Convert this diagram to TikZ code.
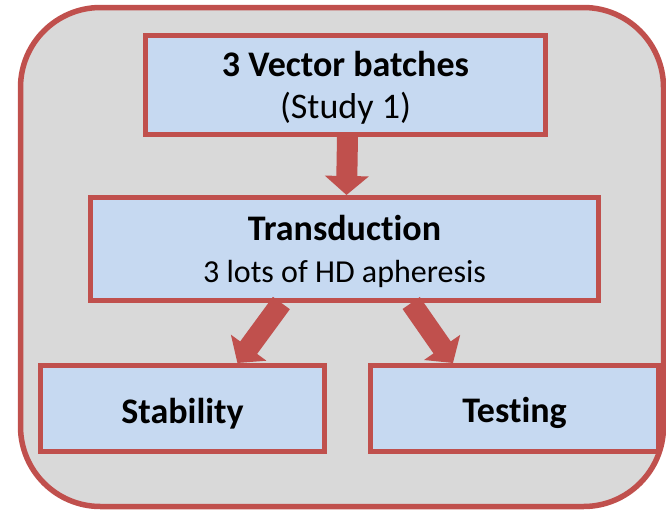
\documentclass[tikz,border=0pt]{standalone}
\usepackage{fontspec}
\setmainfont[Ligatures=NoCommon]{Carlito}
\usetikzlibrary{arrows.meta,calc}
\definecolor{boxred}{RGB}{192,80,77}
\definecolor{boxblue}{RGB}{198,217,241}
\definecolor{panelgray}{RGB}{217,217,217}

\begin{document}
\begin{tikzpicture}[x=1pt, y=-1pt,
                stagebox/.style = {draw=boxred, fill=boxblue, line width=5pt,
                    inner sep=0pt, align=center, font=\fontsize{36}{42}\selectfont,
                    execute at begin node={\rule{0pt}{35pt}}},
                twoline/.style = {text depth=-4pt},
                fatarrow/.style = {draw=boxred, line width=21pt,
                    -{Triangle[length=19pt, width=43pt]}}]
    \useasboundingbox (0,0) rectangle (666,512);
    % grey panel behind the flow
    \draw[boxred, fill=panelgray, line width=5.5pt, rounded corners=80pt]
        (20.5,7.5) rectangle (663.5,506.5);
    \node[stagebox, twoline, minimum width=400pt, minimum height=99pt] (vector) at (345.5,85)
        {\textbf{3 Vector batches}\\(Study 1)};
    \node[stagebox, twoline, minimum width=508pt, minimum height=103pt] (trans) at (344.5,249)
        {\textbf{Transduction}\\{\fontsize{32}{40}\selectfont 3 lots of HD apheresis}};
    \node[stagebox, minimum width=284pt, minimum height=86pt] (stab) at (182.5,408.5)
        {\textbf{Stability}};
    \node[stagebox, minimum width=288pt, minimum height=86pt] (test) at (514.5,408.5)
        {\textbf{Testing}};
    % connectors
    \draw[fatarrow] (vector.south) ++(2,0) -- ($(trans.north)+(2,0)$);
    \draw[fatarrow] ($(trans.south west)!0.377!(trans.south east)$)
        -- ($(stab.north west)!0.69!(stab.north east)$);
    \draw[fatarrow] ($(trans.south west)!0.63!(trans.south east)$)
        -- ($(test.north west)!0.29!(test.north east)$);
\end{tikzpicture}
\end{document}
